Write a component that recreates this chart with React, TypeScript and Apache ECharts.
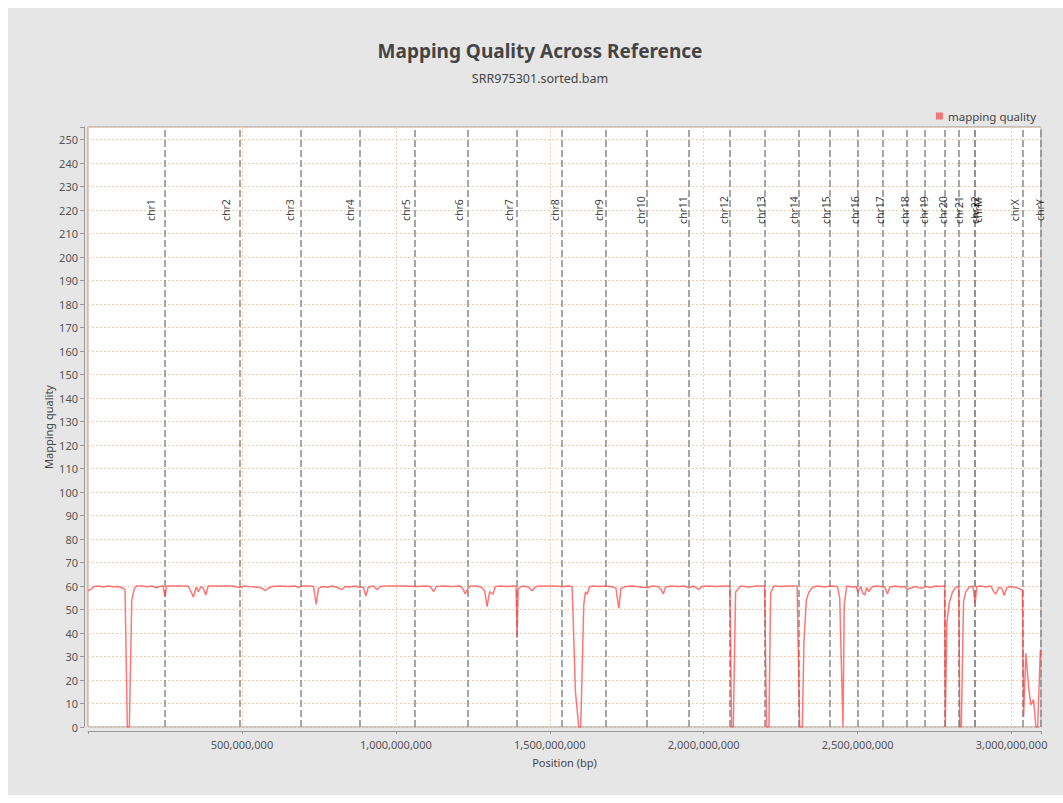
import React, { useEffect, useRef } from "react";
import * as echarts from "echarts";

const chromNames = [
  "chr1", "chr2", "chr3", "chr4", "chr5", "chr6", "chr7", "chr8", "chr9", "chr10",
  "chr11", "chr12", "chr13", "chr14", "chr15", "chr16", "chr17", "chr18", "chr19", "chr20",
  "chr21", "chr22", "chrM", "chrX", "chrY",
];

const chromLengths = [
  249250621, 243199373, 198022430, 191154276, 180915260, 171115067, 159138663, 146364022,
  141213431, 135534747, 135006516, 133851895, 115169878, 107349540, 102531392, 90354753,
  81195210, 78077248, 59128983, 63025520, 48129895, 51304566, 16571, 155270560, 59373566,
];

// window positions in Mbp
const positionMb = [
  0, 9.8, 19.5, 32.5, 48.8, 65, 81.3, 97.5, 110.5, 120.3, 127.8, 134.3, 142.1, 150.5, 157.7,
  175.6, 191.8, 208.1, 221.1, 234.1, 243.8, 250.3, 255.2, 273.1, 299.1, 325.1, 333.3, 342.4,
  351.1, 358.6, 367.4, 374.9, 382.7, 390.2, 412.9, 445.4, 471.4, 494.2, 503.9, 526.7, 552.7,
  565.7, 575.5, 585.2, 598.2, 624.2, 650.3, 673.0, 683.8, 695.8, 721.8, 732.5, 741.3, 748.8,
  760.8, 777.1, 793.3, 809.6, 824.9, 835.6, 851.8, 868.1, 882.7, 894.1, 902.9, 910.4, 926.6,
  939.6, 949.4, 965.6, 998.1, 1030.7, 1063.2, 1095.7, 1112.0, 1122.7, 1131.5, 1154.2, 1183.5,
  1209.5, 1219.2, 1225.7, 1233.9, 1242.0, 1261.5, 1277.8, 1288.5, 1296.3, 1304.8, 1310.3,
  1315.8, 1323.3, 1339.5, 1362.3, 1378.5, 1390.6, 1393.8, 1397.1, 1411.1, 1430.6, 1442.6,
  1453.3, 1469.6, 1495.6, 1521.6, 1541.1, 1557.4, 1572.7, 1583.4, 1594.1, 1600.6, 1610.4,
  1615.9, 1621.4, 1628.9, 1638.7, 1664.7, 1681.0, 1703.7, 1715.1, 1724.2, 1731.4, 1745.9,
  1768.7, 1794.7, 1817.4, 1833.7, 1853.2, 1861.4, 1868.5, 1876.0, 1892.3, 1918.3, 1937.8,
  1950.8, 1967.1, 1984.3, 1993.1, 2015.9, 2041.9, 2067.9, 2085.1, 2090.6, 2096.1, 2103.6,
  2119.9, 2145.9, 2171.9, 2197.9, 2204.4, 2211.9, 2217.4, 2228.1, 2249.9, 2275.9, 2303.5,
  2311.6, 2320.4, 2325.6, 2333.4, 2341.9, 2353.9, 2370.2, 2393.0, 2412.5, 2434.3, 2441.8,
  2452.5, 2456.4, 2464.5, 2480.8, 2495.4, 2500.3, 2510.1, 2516.6, 2523.0, 2529.5, 2536.0,
  2545.8, 2558.8, 2575.0, 2588.0, 2596.8, 2604.3, 2620.6, 2640.1, 2653.1, 2661.2, 2672.6,
  2688.9, 2705.1, 2721.4, 2737.6, 2753.9, 2770.2, 2782.5, 2784.8, 2789.7, 2797.2, 2808.2,
  2818.9, 2828.7, 2832.0, 2836.8, 2844.0, 2851.4, 2862.1, 2874.2, 2881.7, 2887.2, 2900.2,
  2916.5, 2932.8, 2942.5, 2949.0, 2958.8, 2968.6, 2976.1, 2984.8, 2997.7, 3014.0, 3023.8,
  3035.2, 3039.1, 3046.6, 3055.4, 3062.8, 3071.6, 3079.0, 3084.9, 3093.6,
];

const mappingQuality = [
  58.0, 58.6, 59.8, 60, 59.6, 60, 59.7, 59.8, 59.2, 58.5, 0, 0, 54, 59, 60,
  60, 59.7, 60, 59.3, 59.8, 60, 55.5, 60, 60, 60, 60, 58, 55.3,
  59.5, 57.6, 59.8, 59, 56.2, 60, 60, 60, 60, 59.3, 60, 59.7, 59.5,
  59, 58, 59, 59.8, 60, 59.8, 60, 59.3, 60, 60, 59.8, 52.2, 59,
  59.8, 59.5, 60, 59.4, 58.5, 59.8, 59.6, 60, 59.4, 59.6, 55.8, 59.5, 60,
  58.5, 59.8, 60, 60, 60, 59.8, 60, 59.8, 57.6, 59.8, 60, 59.8,
  60, 58.5, 56.6, 59, 60, 60, 59.5, 58, 51.2, 57.6, 57,
  56.6, 59.8, 60, 59.8, 60, 60, 38, 59, 60, 59.6, 58,
  59.7, 60, 60, 60, 59.7, 60, 59.8, 15, 0, 0, 52,
  57.5, 56.5, 59.6, 60, 59.8, 60, 59.7, 59, 50.5, 59, 59.8,
  60, 59.6, 59.3, 60, 59.7, 58.5, 56.6, 59.5, 60, 59.8, 60,
  59.2, 60, 58.5, 59.8, 60, 59.8, 60, 60, 0, 0, 57.5,
  60, 59.6, 60, 60, 0, 0, 57, 60, 59.8, 60, 60,
  0, 0, 36.3, 54, 57.5, 59.5, 60, 59.6, 60, 59.8, 55,
  0, 52, 60, 59.6, 59.8, 57.6, 59.8, 57, 56.2, 59.4, 57.6,
  59.5, 60, 59.8, 59.5, 56.6, 59.5, 60, 59.6, 59.8, 58.5, 59.2,
  59.8, 59, 59.8, 59.4, 60, 59.8, 60, 0, 44, 52.7, 57.5,
  59.5, 59.8, 0, 0, 53.4, 57.5, 59.5, 60, 52.7, 59.8, 60,
  59.6, 60, 57.5, 56.6, 59.5, 59, 56, 59.4, 59.8, 59.4, 59,
  58.2, 4.4, 31.4, 17, 9.4, 11.7, 0, 0, 32.8,
];

const FONT = "'Noto Sans', 'Open Sans', sans-serif";

export default function App() {
  const ref = useRef<HTMLDivElement>(null);

  useEffect(() => {
    if (!ref.current) return;
    const chart = echarts.init(ref.current, undefined, { renderer: "svg" });

    const ends: number[] = [];
    let acc = 0;
    chromLengths.forEach((l) => {
      acc += l;
      ends.push(acc);
    });
    const total = acc;

    const labelData = chromNames.map((n, i) => ({
      name: n,
      value: [ends[i] - 0.221 * chromLengths[i] + 10.7e6, 220],
    }));

    const lineData = positionMb.map((p, i) => [p * 1e6, mappingQuality[i]]);

    const option: any = {
      animation: false,
      backgroundColor: "#e6e6e6",
      textStyle: { fontFamily: FONT },
      graphic: [
        {
          type: "text",
          x: 532,
          y: 43,
          style: {
            text: "Mapping Quality Across Reference",
            fontSize: 19,
            fontWeight: "bold",
            fontFamily: FONT,
            fill: "#444444",
            textAlign: "center",
            textVerticalAlign: "middle",
            align: "center",
            verticalAlign: "middle",
          },
        },
        {
          type: "text",
          x: 532,
          y: 70,
          style: {
            text: "SRR975301.sorted.bam",
            fontSize: 12.5,
            fontFamily: FONT,
            fill: "#444444",
            textAlign: "center",
            textVerticalAlign: "middle",
            align: "center",
            verticalAlign: "middle",
          },
        },
      ],
      legend: {
        data: ["mapping quality"],
        right: 22,
        top: 97,
        icon: "rect",
        itemWidth: 7,
        itemHeight: 7,
        itemGap: 5,
        textStyle: { fontSize: 11.5, color: "#444", fontFamily: FONT },
      },
      grid: {
        left: 80,
        right: 22,
        top: 119,
        bottom: 68,
        show: true,
        backgroundColor: "#ffffff",
        borderColor: "#999999",
        borderWidth: 1,
      },
      xAxis: {
        type: "value",
        min: 0,
        max: total,
        interval: 500000000,
        offset: 4,
        name: "Position (bp)",
        nameLocation: "middle",
        nameGap: 26,
        nameTextStyle: { fontSize: 11, color: "#444", fontFamily: FONT },
        axisLine: { show: true, onZero: false, lineStyle: { color: "#999" } },
        axisTick: { show: true, length: 3, lineStyle: { color: "#999" } },
        axisLabel: {
          color: "#555",
          fontSize: 11,
          margin: 8,
          fontFamily: FONT,
          formatter: (v: number) =>
            v > 0 && v % 500000000 === 0 ? v.toLocaleString("en-US") : "",
        },
        splitLine: { show: true, lineStyle: { color: "#f5cdae", type: [2, 2], width: 1 } },
      },
      yAxis: {
        type: "value",
        min: 0,
        max: 255.4,
        interval: 10,
        offset: 4,
        name: "Mapping quality",
        nameLocation: "middle",
        nameGap: 30,
        nameMoveOverlap: false,
        nameTextStyle: { fontSize: 11, color: "#444", fontFamily: FONT },
        axisLine: { show: true, onZero: false, lineStyle: { color: "#999" } },
        axisTick: { show: true, length: 4, lineStyle: { color: "#999" } },
        axisLabel: {
          color: "#555",
          fontSize: 11,
          margin: 6,
          fontFamily: FONT,
          formatter: (v: number) => (v % 10 === 0 ? String(v) : ""),
        },
        splitLine: { show: true, lineStyle: { color: "#f5cdae", type: [2, 2], width: 1 } },
      },
      series: [
        {
          name: "mapping quality",
          type: "line",
          data: lineData,
          showSymbol: false,
          symbol: "none",
          itemStyle: { color: "#f07878" },
          lineStyle: { color: "rgba(255, 60, 60, 0.7)", width: 1.5 },
          z: 3,
          markLine: {
            silent: true,
            symbol: "none",
            label: { show: false },
            lineStyle: { color: "#8a8a8a", type: [7, 3], width: 1.5 },
            data: ends.map((e) => ({ xAxis: e })),
            z: 2,
          },
        },
        {
          name: "chromosomes",
          type: "scatter",
          data: labelData,
          symbolSize: 1,
          itemStyle: { color: "rgba(0,0,0,0)" },
          silent: true,
          z: 5,
          label: {
            show: true,
            formatter: "{b}",
            rotate: 90,
            position: "inside",
            color: "#000",
            fontSize: 10.5,
            fontFamily: FONT,
            textBorderWidth: 0,
          },
        },
      ],
    };

    chart.setOption(option);
    return () => chart.dispose();
  }, []);

  return (
    <div
      ref={ref}
      style={{ position: "absolute", left: 8, top: 8, width: 1055, height: 787 }}
    />
  );
}
